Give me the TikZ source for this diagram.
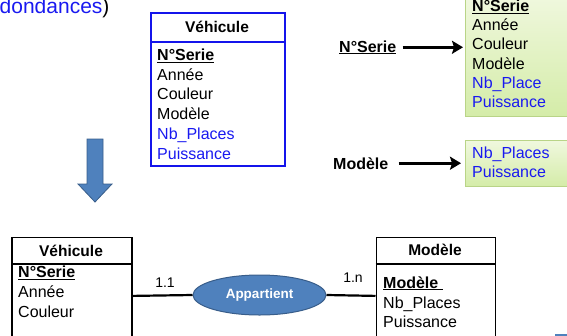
\documentclass[tikz,border=0pt]{standalone}
\usepackage{fontspec}
\setmainfont{Liberation Sans}
\usetikzlibrary{arrows.meta,shapes.geometric}
\definecolor{attrblue}{RGB}{25,25,240}
\definecolor{boxblue}{RGB}{20,20,235}
\definecolor{relfill}{RGB}{79,129,189}
\definecolor{reldraw}{RGB}{56,93,138}
\definecolor{greenline}{RGB}{185,212,135}
\definecolor{greentop}{RGB}{240,248,222}
\definecolor{greenbot}{RGB}{212,236,168}

\begin{document}
\begin{tikzpicture}[x=1pt,y=-1pt,
  attr/.style={anchor=base west,inner sep=0pt,font=\fontsize{16}{19}\selectfont},
  head/.style={anchor=base,inner sep=0pt,font=\fontsize{15.5}{19}\bfseries},
  entity/.style={draw,line width=1.8pt,anchor=north west,inner sep=0pt},
  greenbox/.style={draw=greenline,line width=1pt,top color=greentop,bottom color=greenbot,anchor=north west,inner sep=0pt},
  depend/.style={line width=2.6pt,-{Stealth[length=11pt,width=13pt,inset=2pt]}},
  card/.style={anchor=base,inner sep=0pt,font=\fontsize{14}{16}\selectfont}]
  \useasboundingbox (0,0) rectangle (567,335);

  % titre coupe
  \node[anchor=base west,inner sep=0pt,font=\fontsize{21}{24}\selectfont] (titre) at (-0.5,13.5)
    {\textcolor{attrblue}{dondances})};

  % relation Vehicule avant normalisation
  \node[entity,draw=boxblue,minimum width=134pt,minimum height=153pt] (vehtop) at (150,12) {};
  \draw[boxblue,line width=1.8pt] ([yshift=-30pt]vehtop.north west) -- ([yshift=-30pt]vehtop.north east);
  \node[head] (vehtophd) at (217,32.5) {Véhicule};
  \node[attr] (vt1) at (157,60.5) {\textbf{\underline{N°Serie}}};
  \node[attr] (vt2) at (157,80.2) {Année};
  \node[attr] (vt3) at (157,99.9) {Couleur};
  \node[attr] (vt4) at (157,119.6) {Modèle};
  \node[attr,text=attrblue] (vt5) at (157,139.3) {Nb\_Places};
  \node[attr,text=attrblue] (vt6) at (157,159) {Puissance};

  % dependances fonctionnelles
  \node[greenbox,minimum width=107pt,minimum height=121pt] (g1) at (465,-5) {};
  \node[attr] (g1a) at (472,11.5) {\textbf{\underline{N°Serie}}};
  \node[attr] (g1b) at (472,30.7) {Année};
  \node[attr] (g1c) at (472,49.9) {Couleur};
  \node[attr] (g1d) at (472,69.1) {Modèle};
  \node[attr,text=attrblue] (g1e) at (472,88.3) {Nb\_Place};
  \node[attr,text=attrblue] (g1f) at (472,107.5) {Puissance};
  \node[greenbox,minimum width=107pt,minimum height=46pt] (g2) at (465,140) {};
  \node[attr,text=attrblue] (g2a) at (472,158.5) {Nb\_Places};
  \node[attr,text=attrblue] (g2b) at (472,177.5) {Puissance};

  \node[attr] (dfserie) at (339,52) {\textbf{\underline{N°Serie}}};
  \node[attr] (dfmodele) at (333,169) {\textbf{Modèle}};
  \draw[depend,shorten <=6pt,shorten >=2pt] (dfserie.east) -- (dfserie.east -| g1.west);
  \draw[depend,shorten <=10pt,shorten >=4pt] (dfmodele.east) -- (dfmodele.east -| g2.west);

  % grosse fleche
  \draw[reldraw,fill=relfill,line width=0.8pt] (87,139) -- (103,139) -- (103,184) -- (112,184)
    -- (95,202) -- (78,184) -- (87,184) -- cycle;

  % modele entite-association
  \node[entity,minimum width=120pt,minimum height=117pt] (vehbot) at (11,236.5) {};
  \draw[line width=1.8pt] ([yshift=-27.5pt]vehbot.north west) -- ([yshift=-27.5pt]vehbot.north east);
  \node[head] (vehbothd) at (71,256) {Véhicule};
  \node[attr] (vb1) at (18,277.5) {\textbf{\underline{N°Serie}}};
  \node[attr] (vb2) at (18,297.5) {Année};
  \node[attr] (vb3) at (18,317) {Couleur};

  \node[entity,minimum width=119pt,minimum height=117pt] (modbot) at (375.5,236.5) {};
  \draw[line width=1.8pt] ([yshift=-27.5pt]modbot.north west) -- ([yshift=-27.5pt]modbot.north east);
  \node[head] (modbothd) at (435,255.5) {Modèle};
  \node[attr] (mb1) at (383,288) {\textbf{\underline{Modèle\ }}};
  \node[attr] (mb2) at (383,308) {Nb\_Places};
  \node[attr] (mb3) at (383,327) {Puissance};

  \node[ellipse,draw=reldraw,fill=relfill,line width=1pt,minimum width=133pt,minimum height=40pt,
    text=white,font=\fontsize{13.5}{16}\bfseries] (appart) at (259.5,295) {Appartient};
  \draw[line width=2.2pt] (vehbot.east) -- (appart.west);
  \draw[line width=2.2pt] (appart.east) -- (modbot.west);
  \node[card] (c11) at (165,287.5) {1.1};
  \node[card] (c1n) at (353,282.5) {1.n};

  \fill[relfill] (555,333.5) rectangle (570,340);
\end{tikzpicture}
\end{document}
